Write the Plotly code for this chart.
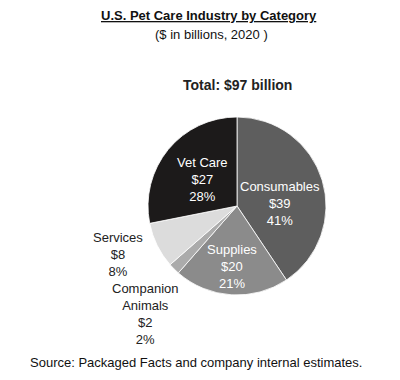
import plotly.graph_objects as go

categories = ["Consumables", "Supplies", "Companion<br>Animals", "Services", "Vet Care"]
values = [39, 20, 2, 8, 27]
percents = [41, 21, 2, 8, 28]
colors = ["#5e5e5e", "#8b8b8b", "#ababab", "#dcdcdc", "#1c1a1a"]
total = 97

FONT = "Liberation Sans, Arial, sans-serif"

fig = go.Figure(go.Pie(
    labels=categories,
    values=values,
    sort=False,
    direction="clockwise",
    rotation=0,
    textinfo="none",
    hoverinfo="label+value",
    marker=dict(colors=colors, line=dict(color="white", width=0.8)),
    domain=dict(x=[148/400, 326/400], y=[1-295/380, 1-117/380]),
    showlegend=False,
))

# label positions (paper coords) and colors
label_pos = [(280, 203, "white"), (232, 266, "white"), (145, 314, "#222222"),
             (118, 254, "#222222"), (202, 179, "white")]
annotations = []
for cat, v, p, (px, py, c) in zip(categories, values, percents, label_pos):
    annotations.append(dict(
        x=px/400, y=1-py/380, xref="paper", yref="paper",
        text=f"{cat}<br>${v}<br>{p}%", showarrow=False,
        font=dict(family=FONT, size=13, color=c), align="center",
        xanchor="center", yanchor="middle"))

annotations += [
    dict(x=209/400, y=1-15/380, xref="paper", yref="paper", showarrow=False,
         text="<b><u>U.S. Pet Care Industry by Category</u></b>",
         font=dict(family=FONT, size=13, color="#111111"), xanchor="center", yanchor="middle"),
    dict(x=211/400, y=1-35/380, xref="paper", yref="paper", showarrow=False,
         text="($ in billions, 2020 )",
         font=dict(family=FONT, size=13, color="#111111"), xanchor="center", yanchor="middle"),
    dict(x=237/400, y=1-85/380, xref="paper", yref="paper", showarrow=False,
         text=f"<b>Total: ${total} billion</b>",
         font=dict(family=FONT, size=14, color="#222222"), xanchor="center", yanchor="middle"),
    dict(x=196/400, y=1-362/380, xref="paper", yref="paper", showarrow=False,
         text="Source: Packaged Facts and company internal estimates.",
         font=dict(family=FONT, size=13, color="#111111"), xanchor="center", yanchor="middle"),
]

fig.update_layout(
    width=400, height=380,
    margin=dict(l=0, r=0, t=0, b=0),
    paper_bgcolor="white", plot_bgcolor="white",
    annotations=annotations,
)

fig.write_html("out.html", config={"displayModeBar": False},
               post_script="document.body.style.margin='0';")
